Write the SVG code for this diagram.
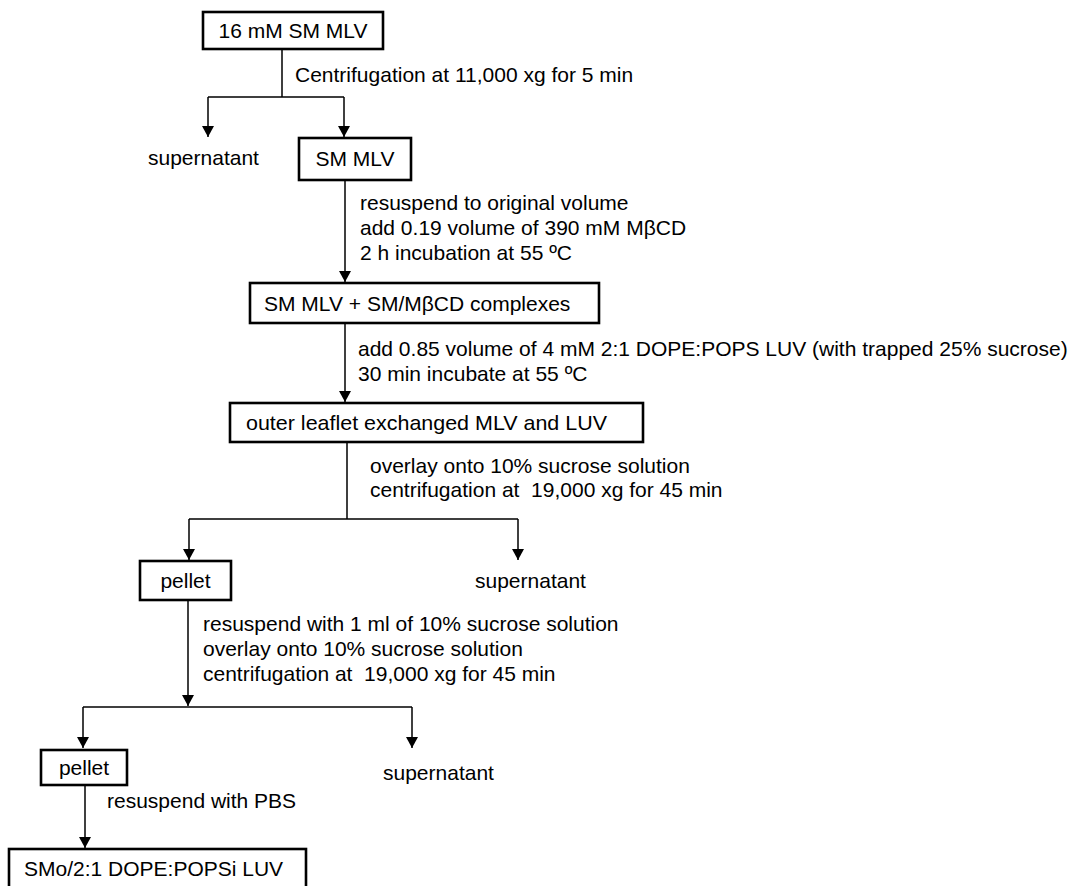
<svg xmlns="http://www.w3.org/2000/svg" width="1072" height="886" viewBox="0 0 1072 886">
<style>
  text { font-family: "Liberation Sans", Arial, sans-serif; font-size: 21px; fill: #000; }
  .box { fill: #fff; stroke: #000; stroke-width: 2.6; }
  .c { fill: none; stroke: #000; stroke-width: 1.5; }
  .mid { text-anchor: middle; }
  .pre { white-space: pre; }
</style>
<defs>
  <marker id="arr" viewBox="0 0 11 12" markerWidth="11" markerHeight="12" refX="11" refY="6" orient="auto" markerUnits="userSpaceOnUse">
    <path d="M0,0 L11,6 L0,12 z" fill="#000"/>
  </marker>
</defs>
<rect width="1072" height="886" fill="#fff"/>
<g id="connectors">
  <path class="c" d="M282,49 V97 M208,97 H344"/>
  <path class="c" d="M208,97 V137" marker-end="url(#arr)"/>
  <path class="c" d="M344,97 V137" marker-end="url(#arr)"/>
  <path class="c" d="M345,180 V282" marker-end="url(#arr)"/>
  <path class="c" d="M345,323 V402" marker-end="url(#arr)"/>
  <path class="c" d="M347,442 V519 M189,519 H518"/>
  <path class="c" d="M189,519 V560" marker-end="url(#arr)"/>
  <path class="c" d="M518,519 V560" marker-end="url(#arr)"/>
  <path class="c" d="M188,600 V706" marker-end="url(#arr)"/>
  <path class="c" d="M83,707 H412"/>
  <path class="c" d="M83,707 V748" marker-end="url(#arr)"/>
  <path class="c" d="M412,707 V748" marker-end="url(#arr)"/>
  <path class="c" d="M85,785 V848" marker-end="url(#arr)"/>
</g>
<g id="labels">
  <text x="295" y="82">Centrifugation at 11,000 xg for 5 min</text>
  <text x="360" y="210">resuspend to original volume</text>
  <text x="360" y="235">add 0.19 volume of 390 mM MβCD</text>
  <text x="360" y="260">2 h incubation at 55 ºC</text>
  <text x="358" y="356">add 0.85 volume of 4 mM 2:1 DOPE:POPS LUV (with trapped 25% sucrose)</text>
  <text x="358" y="381">30 min incubate at 55 ºC</text>
  <text x="370" y="473">overlay onto 10% sucrose solution</text>
  <text class="pre" xml:space="preserve" x="370" y="497">centrifugation at  19,000 xg for 45 min</text>
  <text x="203" y="631">resuspend with 1 ml of 10% sucrose solution</text>
  <text x="203" y="656">overlay onto 10% sucrose solution</text>
  <text class="pre" xml:space="preserve" x="203" y="681">centrifugation at  19,000 xg for 45 min</text>
  <text x="107" y="808">resuspend with PBS</text>
</g>
<g id="n1"><rect class="box" x="203" y="12" width="180" height="37"/><text class="mid" x="293" y="38">16 mM SM MLV</text></g>
<g id="n2"><text x="148" y="165">supernatant</text></g>
<g id="n3"><rect class="box" x="299" y="138" width="112" height="42"/><text class="mid" x="355" y="166">SM MLV</text></g>
<g id="n4"><rect class="box" x="250" y="283" width="349" height="40"/><text x="264" y="311">SM MLV + SM/MβCD complexes</text></g>
<g id="n5"><rect class="box" x="230" y="403" width="413" height="39"/><text x="246" y="430" textLength="361" lengthAdjust="spacingAndGlyphs">outer leaflet exchanged MLV and LUV</text></g>
<g id="n6"><rect class="box" x="140" y="561" width="91" height="39"/><text class="mid" x="185.5" y="588">pellet</text></g>
<g id="n7"><text x="475" y="588">supernatant</text></g>
<g id="n8"><rect class="box" x="41" y="750" width="86" height="35"/><text class="mid" x="84" y="775">pellet</text></g>
<g id="n9"><text x="383" y="780">supernatant</text></g>
<g id="n10"><rect class="box" x="9" y="849" width="297" height="45"/><text x="24" y="876">SMo/2:1 DOPE:POPSi LUV</text></g>
</svg>
